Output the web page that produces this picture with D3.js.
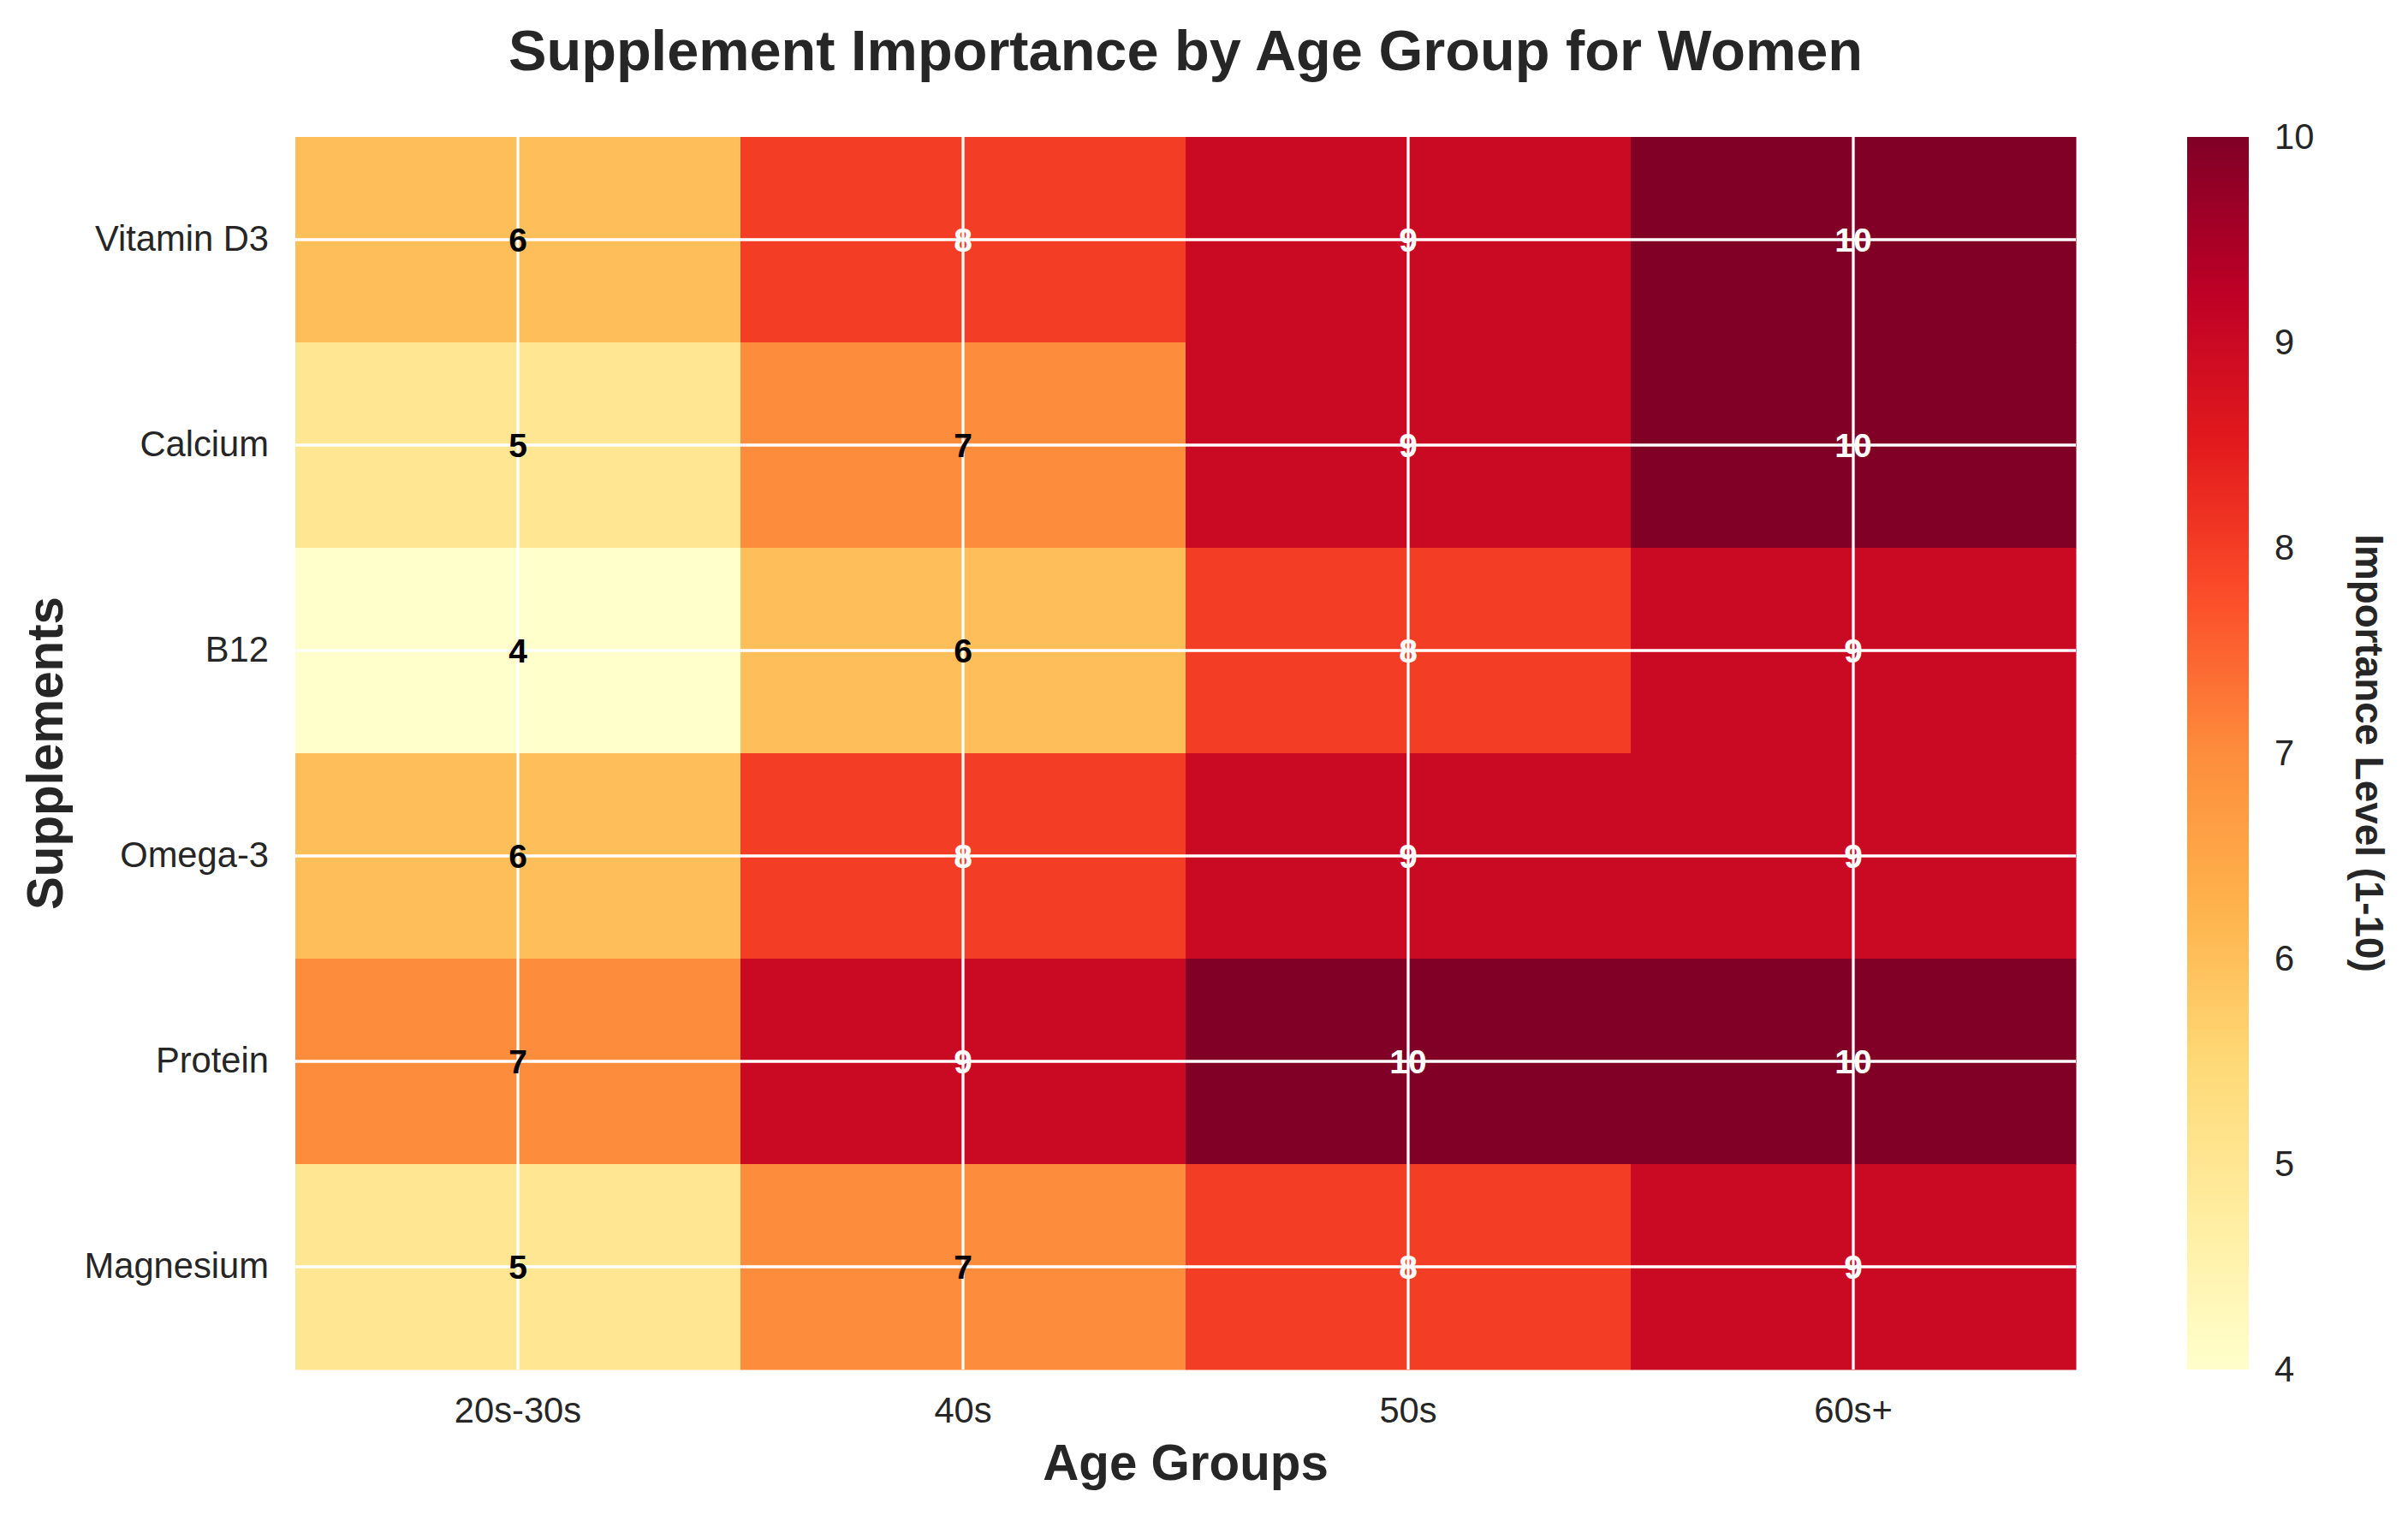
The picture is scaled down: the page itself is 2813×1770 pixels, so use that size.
<!DOCTYPE html>
<html>
<head>
<meta charset="utf-8">
<script src="https://cdn.jsdelivr.net/npm/d3@7"></script>
<style>
  body { margin: 0; background: #fff; }
  svg { display: block; font-family: "Liberation Sans", Arial, sans-serif; }
</style>
</head>
<body>
<svg id="chart"></svg>
<script>
// data
const supplements = ["Vitamin D3", "Calcium", "B12", "Omega-3", "Protein", "Magnesium"];
const ageGroups = ["20s-30s", "40s", "50s", "60s+"];
const vitaminD3 = [6, 8, 9, 10];
const calcium = [5, 7, 9, 10];
const b12 = [4, 6, 8, 9];
const omega3 = [6, 8, 9, 9];
const protein = [7, 9, 10, 10];
const magnesium = [5, 7, 8, 9];
const colorTicks = [4, 5, 6, 7, 8, 9, 10];

const rows = [vitaminD3, calcium, b12, omega3, protein, magnesium];
const cells = [];
rows.forEach((vals, i) => vals.forEach((v, j) => cells.push({ s: supplements[i], a: ageGroups[j], v: v })));

const width = 2813, height = 1770;
const plotLeft = 345, plotRight = 2425, plotTop = 160, plotBottom = 1600;

const svg = d3.select("#chart").attr("width", width).attr("height", height);

// matplotlib YlOrRd
const ylorrd = ["#ffffcc", "#ffeda0", "#fed976", "#feb24c", "#fd8d3c", "#fc4e2a", "#e31a1c", "#bd0026", "#800026"];
const color = d3.scaleLinear()
  .domain(d3.range(ylorrd.length).map(i => 4 + 6 * i / (ylorrd.length - 1)))
  .range(ylorrd)
  .interpolate(d3.interpolateRgb);

const x = d3.scaleBand().domain(ageGroups).range([plotLeft, plotRight]).padding(0);
const y = d3.scaleBand().domain(supplements).range([plotTop, plotBottom]).padding(0);

svg.append("g").selectAll("rect")
  .data(cells)
  .join("rect")
  .attr("x", d => x(d.a))
  .attr("y", d => y(d.s))
  .attr("width", x.bandwidth() + 0.5)
  .attr("height", y.bandwidth() + 0.5)
  .attr("fill", d => color(d.v));

// white grid lines through cell centres
const grid = svg.append("g").attr("stroke", "#fff").attr("stroke-width", 3.3);
grid.selectAll("line.v")
  .data(ageGroups)
  .join("line")
  .attr("class", "v")
  .attr("x1", d => x(d) + x.bandwidth() / 2)
  .attr("x2", d => x(d) + x.bandwidth() / 2)
  .attr("y1", plotTop).attr("y2", plotBottom);
grid.selectAll("line.h")
  .data(supplements)
  .join("line")
  .attr("class", "h")
  .attr("y1", d => y(d) + y.bandwidth() / 2)
  .attr("y2", d => y(d) + y.bandwidth() / 2)
  .attr("x1", plotLeft).attr("x2", plotRight);

// annotations
svg.append("g").selectAll("text")
  .data(cells)
  .join("text")
  .attr("x", d => x(d.a) + x.bandwidth() / 2)
  .attr("y", d => y(d.s) + y.bandwidth() / 2)
  .attr("dy", "0.36em")
  .attr("text-anchor", "middle")
  .attr("font-size", 39)
  .attr("font-weight", "bold")
  .attr("fill", d => d.v > 7 ? "#fff" : "#000")
  .text(d => d.v);

// axes
const xAxis = svg.append("g")
  .attr("transform", `translate(0,${plotBottom})`)
  .call(d3.axisBottom(x).tickSize(0).tickPadding(32))
  .call(g => g.select(".domain").remove());
xAxis.attr("font-family", null);
xAxis.selectAll("text").attr("font-size", 41.7).attr("fill", "#262626");

const yAxis = svg.append("g")
  .attr("transform", `translate(${plotLeft},0)`)
  .call(d3.axisLeft(y).tickSize(0).tickPadding(31))
  .call(g => g.select(".domain").remove());
yAxis.attr("font-family", null);
yAxis.selectAll("text").attr("font-size", 41.7).attr("fill", "#262626");

// colorbar
const cbLeft = 2555, cbRight = 2627;
const cbScale = d3.scaleLinear().domain([4, 10]).range([plotBottom, plotTop]);
const defs = svg.append("defs");
const grad = defs.append("linearGradient")
  .attr("id", "cbGrad")
  .attr("x1", 0).attr("y1", 1).attr("x2", 0).attr("y2", 0);
grad.selectAll("stop")
  .data(d3.range(0, 61).map(i => 4 + i / 10))
  .join("stop")
  .attr("offset", d => (d - 4) / 6)
  .attr("stop-color", d => color(d));
svg.append("rect")
  .attr("x", cbLeft).attr("y", plotTop)
  .attr("width", cbRight - cbLeft).attr("height", plotBottom - plotTop)
  .attr("fill", "url(#cbGrad)");

const cAxis = svg.append("g")
  .attr("transform", `translate(${cbRight},0)`)
  .call(d3.axisRight(cbScale).tickValues(colorTicks).tickFormat(d3.format("d")).tickSize(0).tickPadding(30))
  .call(g => g.select(".domain").remove());
cAxis.attr("font-family", null);
cAxis.selectAll("text").attr("font-size", 41.7).attr("fill", "#262626");

svg.append("text")
  .attr("transform", `translate(2752,${(plotTop + plotBottom) / 2}) rotate(90)`)
  .attr("text-anchor", "middle")
  .attr("font-size", 45.8)
  .attr("font-weight", "bold")
  .attr("fill", "#262626")
  .text("Importance Level (1-10)");

// titles
svg.append("text")
  .attr("x", (plotLeft + plotRight) / 2)
  .attr("y", 82)
  .attr("text-anchor", "middle")
  .attr("font-size", 66.7)
  .attr("font-weight", "bold")
  .attr("fill", "#262626")
  .text("Supplement Importance by Age Group for Women");

svg.append("text")
  .attr("x", (plotLeft + plotRight) / 2)
  .attr("y", 1729)
  .attr("text-anchor", "middle")
  .attr("font-size", 58.3)
  .attr("font-weight", "bold")
  .attr("fill", "#262626")
  .text("Age Groups");

svg.append("text")
  .attr("transform", `translate(73,${(plotTop + plotBottom) / 2}) rotate(-90)`)
  .attr("text-anchor", "middle")
  .attr("font-size", 58.3)
  .attr("font-weight", "bold")
  .attr("fill", "#262626")
  .text("Supplements");
</script>
</body>
</html>
